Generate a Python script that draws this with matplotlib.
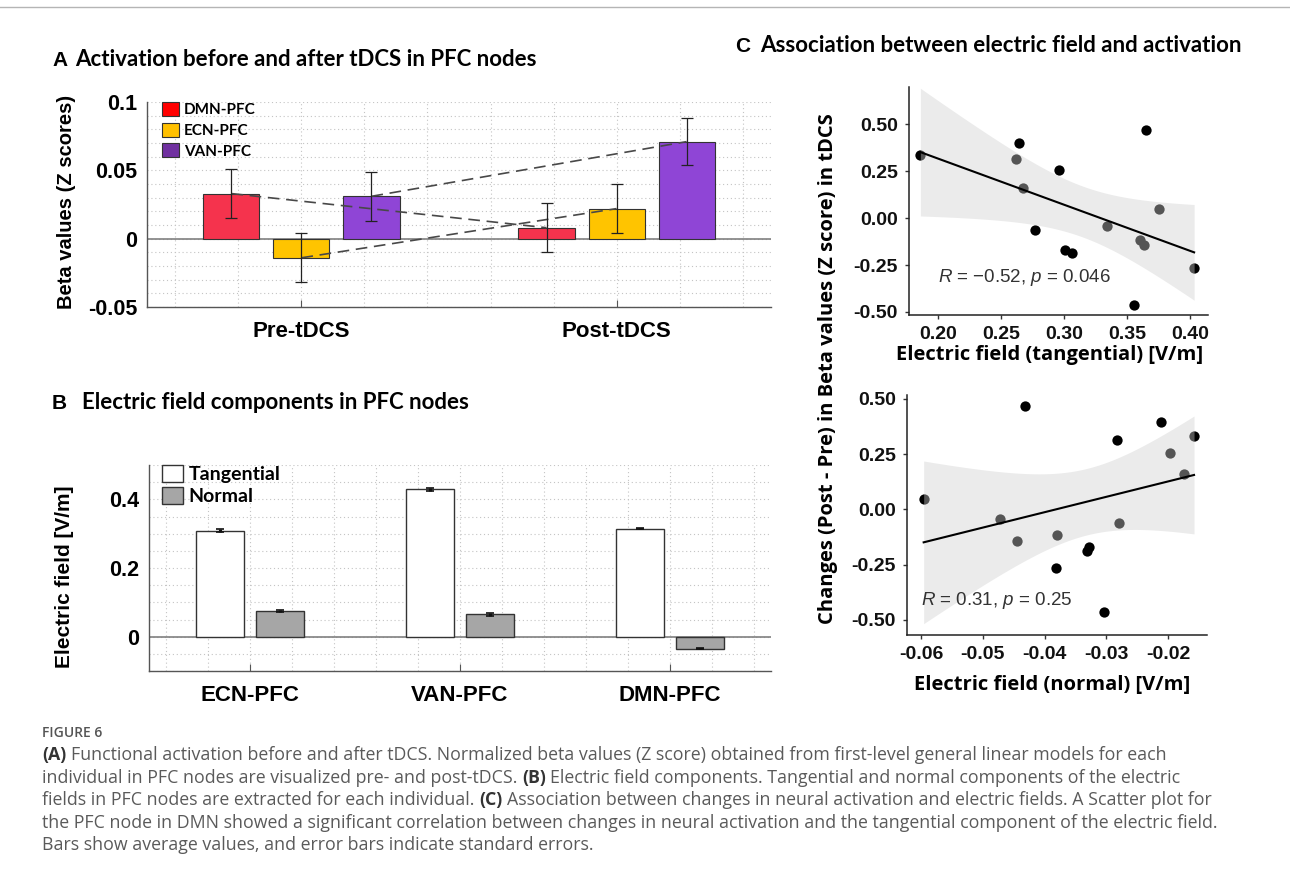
import numpy as np
import matplotlib
matplotlib.use('Agg')
import matplotlib.pyplot as plt
from matplotlib.patches import Patch
from matplotlib.lines import Line2D
from matplotlib.ticker import MultipleLocator

plt.rcParams['mathtext.fontset'] = 'custom'
plt.rcParams['mathtext.it'] = 'Liberation Sans:italic'
plt.rcParams['mathtext.rm'] = 'Liberation Sans'

# ---- data ----
# A: beta values pre / post tDCS
phases = ['Pre-tDCS', 'Post-tDCS']
networks = ['DMN-PFC', 'ECN-PFC', 'VAN-PFC']
beta_pre = [0.033, -0.014, 0.031]
beta_post = [0.008, 0.022, 0.071]
beta_pre_se = [0.018, 0.018, 0.018]
beta_post_se = [0.018, 0.018, 0.017]

# B: electric field components
regions = ['ECN-PFC', 'VAN-PFC', 'DMN-PFC']
ef_tan = [0.309, 0.429, 0.315]
ef_norm = [0.076, 0.065, -0.035]
ef_tan_se = [0.004, 0.004, 0.002]
ef_norm_se = [0.003, 0.004, 0.002]

# C: per-subject change in beta (DMN-PFC) vs field
d_beta = [0.466, 0.398, 0.334, 0.313, 0.257, 0.162, 0.046, -0.044,
          -0.062, -0.116, -0.142, -0.168, -0.186, -0.264, -0.463]
ef_tan_subj = [0.365, 0.264, 0.186, 0.262, 0.296, 0.267, 0.375, 0.334,
               0.277, 0.360, 0.363, 0.301, 0.306, 0.403, 0.355]
ef_norm_subj = [-0.0432, -0.0212, -0.0158, -0.0282, -0.0197, -0.0175, -0.0596, -0.0472,
                -0.0279, -0.0380, -0.0445, -0.0328, -0.0332, -0.0381, -0.0304]
stat_labels = [r'$\mathit{R}$ = −0.52, $\mathit{p}$ = 0.046', r'$\mathit{R}$ = 0.31, $\mathit{p}$ = 0.25']

caption_head = 'FIGURE 6'
caption = [
    [('(A)', True), (' Functional activation before and after tDCS. Normalized beta values (Z score) obtained from first-level general linear models for each', False)],
    [('individual in PFC nodes are visualized pre- and post-tDCS. ', False), ('(B)', True), (' Electric field components. Tangential and normal components of the electric', False)],
    [('fields in PFC nodes are extracted for each individual. ', False), ('(C)', True), (' Association between changes in neural activation and electric fields. A Scatter plot for', False)],
    [('the PFC node in DMN showed a significant correlation between changes in neural activation and the tangential component of the electric field.', False)],
    [('Bars show average values, and error bars indicate standard errors.', False)],
]

W, H = 1290, 888
ARIAL = 'Liberation Sans'
CAL = 'Lato'
SEG = 'Open Sans'


def box(l, t, r, b):
    return [l / W, 1 - b / H, (r - l) / W, (b - t) / H]


def fx(px):
    return px / W


def fy(py):
    return 1 - py / H


fig = plt.figure(figsize=(W / 100, H / 100), dpi=100)
fig.add_artist(Line2D([0, 1], [fy(7), fy(7)], color='#b5b5b5', lw=1))

grid_kw = dict(ls=(0, (1, 2.5)), color='#c4c4c4', lw=0.8)


def matlab_axes(ax):
    for s in ['top', 'right']:
        ax.spines[s].set_visible(False)
    for s in ['left', 'bottom']:
        ax.spines[s].set_color('#555555')
        ax.spines[s].set_linewidth(1.0)
    ax.set_axisbelow(True)
    ax.grid(which='both', **grid_kw)
    ax.tick_params(axis='y', which='both', length=0)
    ax.tick_params(axis='x', which='minor', length=0)
    ax.tick_params(axis='x', which='major', direction='in', length=5, color='#555555')


def panel_title(letter, text, x_letter, x_text, y):
    fig.text(fx(x_letter), fy(y), letter, ha='left', va='baseline', fontfamily=ARIAL,
             fontweight='bold', fontsize=15)
    fig.text(fx(x_text), fy(y), text, ha='left', va='baseline', fontfamily=CAL,
             fontweight='bold', fontsize=16)


# ---- panel A ----
axA = fig.add_axes(box(147, 102, 771, 307))
bar_cols = ['#F5334D', '#FFC400', '#8F45D6']
leg_cols = ['#FF0000', '#FFC000', '#7030A0']
xa = np.arange(1, len(phases) + 1)
offs = [-2 / 9, 0, 2 / 9]
vals = np.array([beta_pre, beta_post])
errs = np.array([beta_pre_se, beta_post_se])
axA.axhline(0, color='#808080', lw=1.2, zorder=2)
for j in range(len(networks)):
    xs = xa + offs[j]
    axA.bar(xs, vals[:, j], width=0.178, color=bar_cols[j], edgecolor='#333333', lw=0.8, zorder=3)
    axA.plot(xs, vals[:, j], ls=(0, (7, 4)), color='#484848', lw=1.2, zorder=4)
    axA.errorbar(xs, vals[:, j], yerr=errs[:, j], fmt='none', ecolor='#222222',
                 elinewidth=0.9, capsize=4.5, capthick=0.9, zorder=5)
axA.set_xlim(0.51, 2.49)
axA.set_ylim(-0.05, 0.1)
axA.xaxis.set_minor_locator(MultipleLocator(0.2))
axA.yaxis.set_minor_locator(MultipleLocator(0.01))
matlab_axes(axA)
axA.set_xticks(xa)
axA.set_xticklabels(phases, fontfamily=ARIAL, fontweight='bold', fontsize=16)
axA.set_yticks([-0.05, 0, 0.05, 0.1])
axA.set_yticklabels(['-0.05', '0', '0.05', '0.1'], fontfamily=ARIAL, fontweight='bold', fontsize=15.5)
axA.tick_params(axis='x', which='major', pad=10)
axA.tick_params(axis='y', pad=7)
hA = [Patch(facecolor=c, edgecolor='#333333', lw=0.8) for c in leg_cols]
axA.legend(hA, networks, loc='upper left', bbox_to_anchor=(15 / 624, 1.0), frameon=False,
           prop=dict(family=CAL, weight='bold', size=11), handlelength=1.1, handleheight=1.05,
           labelspacing=0.35, handletextpad=0.35, borderpad=0, borderaxespad=0)
fig.text(fx(67), fy(202), 'Beta values (Z scores)', rotation=90, ha='center', va='center',
         fontfamily=ARIAL, fontweight='bold', fontsize=14.5)
panel_title('A', 'Activation before and after tDCS in PFC nodes', 52, 75, 66)

# ---- panel B ----
axB = fig.add_axes(box(149, 465, 771, 671))
xb = np.arange(1, len(regions) + 1)
axB.axhline(0, color='#808080', lw=1.2, zorder=2)
axB.bar(xb - 1 / 7, ef_tan, width=0.229, color='white', edgecolor='#333333', lw=1.0, zorder=3)
axB.bar(xb + 1 / 7, ef_norm, width=0.229, color='#A6A6A6', edgecolor='#333333', lw=1.0, zorder=3)
axB.errorbar(xb - 1 / 7, ef_tan, yerr=ef_tan_se, fmt='none', ecolor='#111111',
             elinewidth=2.2, capsize=3, capthick=1.2, zorder=5)
axB.errorbar(xb + 1 / 7, ef_norm, yerr=ef_norm_se, fmt='none', ecolor='#111111',
             elinewidth=2.2, capsize=3, capthick=1.2, zorder=5)
axB.set_xlim(0.52, 3.48)
axB.set_ylim(-0.1, 0.5)
axB.xaxis.set_minor_locator(MultipleLocator(0.2))
axB.yaxis.set_minor_locator(MultipleLocator(0.05))
matlab_axes(axB)
axB.set_xticks(xb)
axB.set_xticklabels(regions, fontfamily=ARIAL, fontweight='bold', fontsize=16)
axB.set_yticks([0, 0.2, 0.4])
axB.set_yticklabels(['0', '0.2', '0.4'], fontfamily=ARIAL, fontweight='bold', fontsize=15.5)
axB.tick_params(axis='x', which='major', pad=10)
axB.tick_params(axis='y', pad=7)
hB = [Patch(facecolor='white', edgecolor='#333333', lw=1.0),
      Patch(facecolor='#A6A6A6', edgecolor='#333333', lw=1.0)]
axB.legend(hB, ['Tangential', 'Normal'], loc='upper left', bbox_to_anchor=(13 / 622, 1.0), frameon=False,
           prop=dict(family=CAL, weight='bold', size=14), handlelength=1.1, handleheight=0.95,
           labelspacing=0.22, handletextpad=0.28, borderpad=0, borderaxespad=0)
fig.text(fx(65), fy(577), 'Electric field [V/m]', rotation=90, ha='center', va='center',
         fontfamily=ARIAL, fontweight='bold', fontsize=15)
panel_title('B', 'Electric field components in PFC nodes', 52, 82, 409)

# ---- panel C ----
T_975_13 = 2.1604  # t quantile, n - 2 = 13 df


def lm_band(x, y, xg):
    x = np.asarray(x)
    y = np.asarray(y)
    b1, b0 = np.polyfit(x, y, 1)
    res = y - (b0 + b1 * x)
    s = np.sqrt(np.sum(res ** 2) / (len(x) - 2))
    se = s * np.sqrt(1 / len(x) + (xg - x.mean()) ** 2 / np.sum((x - x.mean()) ** 2))
    yh = b0 + b1 * xg
    return yh, yh - T_975_13 * se, yh + T_975_13 * se


def gg_axes(ax):
    for s in ['top', 'right']:
        ax.spines[s].set_visible(False)
    for s in ['left', 'bottom']:
        ax.spines[s].set_color('#222222')
        ax.spines[s].set_linewidth(1.1)
    ax.tick_params(direction='out', length=3, width=1, color='#333333', pad=5)


axC1 = fig.add_axes(box(909, 87, 1208, 315))
axC2 = fig.add_axes(box(907, 395, 1207, 635))
panels = [
    (axC1, ef_tan_subj, (0.177, 0.414), (-0.516, 0.697), [0.20, 0.25, 0.30, 0.35, 0.40], (0.20, -0.314)),
    (axC2, ef_norm_subj, (-0.0623, -0.0137), (-0.568, 0.518), [-0.06, -0.05, -0.04, -0.03, -0.02], (-0.06, -0.41)),
]
for k, (ax, xv, xl, yl, xt, tpos) in enumerate(panels):
    xg = np.linspace(min(xv), max(xv), 80)
    yh, lo, hi = lm_band(xv, d_beta, xg)
    ax.scatter(xv, d_beta, s=55, color='black', lw=0, zorder=2)
    ax.fill_between(xg, lo, hi, color='#CFCFCF', alpha=0.41, lw=0, zorder=3)
    ax.plot(xg, yh, color='black', lw=1.5, zorder=4)
    ax.set_xlim(*xl)
    ax.set_ylim(*yl)
    ax.set_xticks(xt)
    ax.set_xticklabels([f'{v:.2f}' for v in xt], fontfamily=ARIAL, fontweight='bold', fontsize=14, color='#111111')
    yt = [-0.5, -0.25, 0, 0.25, 0.5]
    ax.set_yticks(yt)
    ax.set_yticklabels([f'{v:.2f}' for v in yt], fontfamily=ARIAL, fontweight='bold', fontsize=14, color='#111111')
    gg_axes(ax)
    ax.text(tpos[0], tpos[1], stat_labels[k], ha='left', va='center', fontfamily=ARIAL,
            fontsize=13.5, color='#333333')

fig.text(fx(1050), fy(355), 'Electric field (tangential) [V/m]', ha='center', va='center',
         fontfamily=SEG, fontweight='bold', fontsize=14.5)
fig.text(fx(1052), fy(685), 'Electric field (normal) [V/m]', ha='center', va='center',
         fontfamily=SEG, fontweight='bold', fontsize=14.5)
fig.text(fx(828), fy(369), 'Changes (Post - Pre) in Beta values (Z score) in tDCS', rotation=90,
         ha='center', va='center', fontfamily=SEG, fontweight='bold', fontsize=14.5)
panel_title('C', 'Association between electric field and activation', 735, 760, 52)

# ---- caption ----
fig.text(fx(42), fy(733), caption_head, ha='left', va='center', fontfamily=SEG,
         fontweight='semibold', fontsize=10, color='#555555')
renderer = fig.canvas.get_renderer()
cap_size = 12.8
probe1 = fig.text(0, 0, 'x x', fontfamily=SEG, fontsize=cap_size)
probe2 = fig.text(0, 0, 'xx', fontfamily=SEG, fontsize=cap_size)
space_w = probe1.get_window_extent(renderer).width - probe2.get_window_extent(renderer).width
probe1.remove()
probe2.remove()
line_y = [755, 777.5, 800, 822.5, 845]
for yline, segs in zip(line_y, caption):
    xpos = 42.0
    for txt, bold in segs:
        if txt.startswith(' '):
            xpos += space_w
        t = fig.text(fx(xpos), fy(yline), txt.strip(), ha='left', va='center', fontfamily=SEG,
                     fontweight='bold' if bold else 'normal', fontsize=cap_size,
                     color='#333333' if bold else '#5a5a5a')
        xpos = t.get_window_extent(renderer).x1
        if txt.endswith(' '):
            xpos += space_w

fig.savefig('out.png', dpi=100)
